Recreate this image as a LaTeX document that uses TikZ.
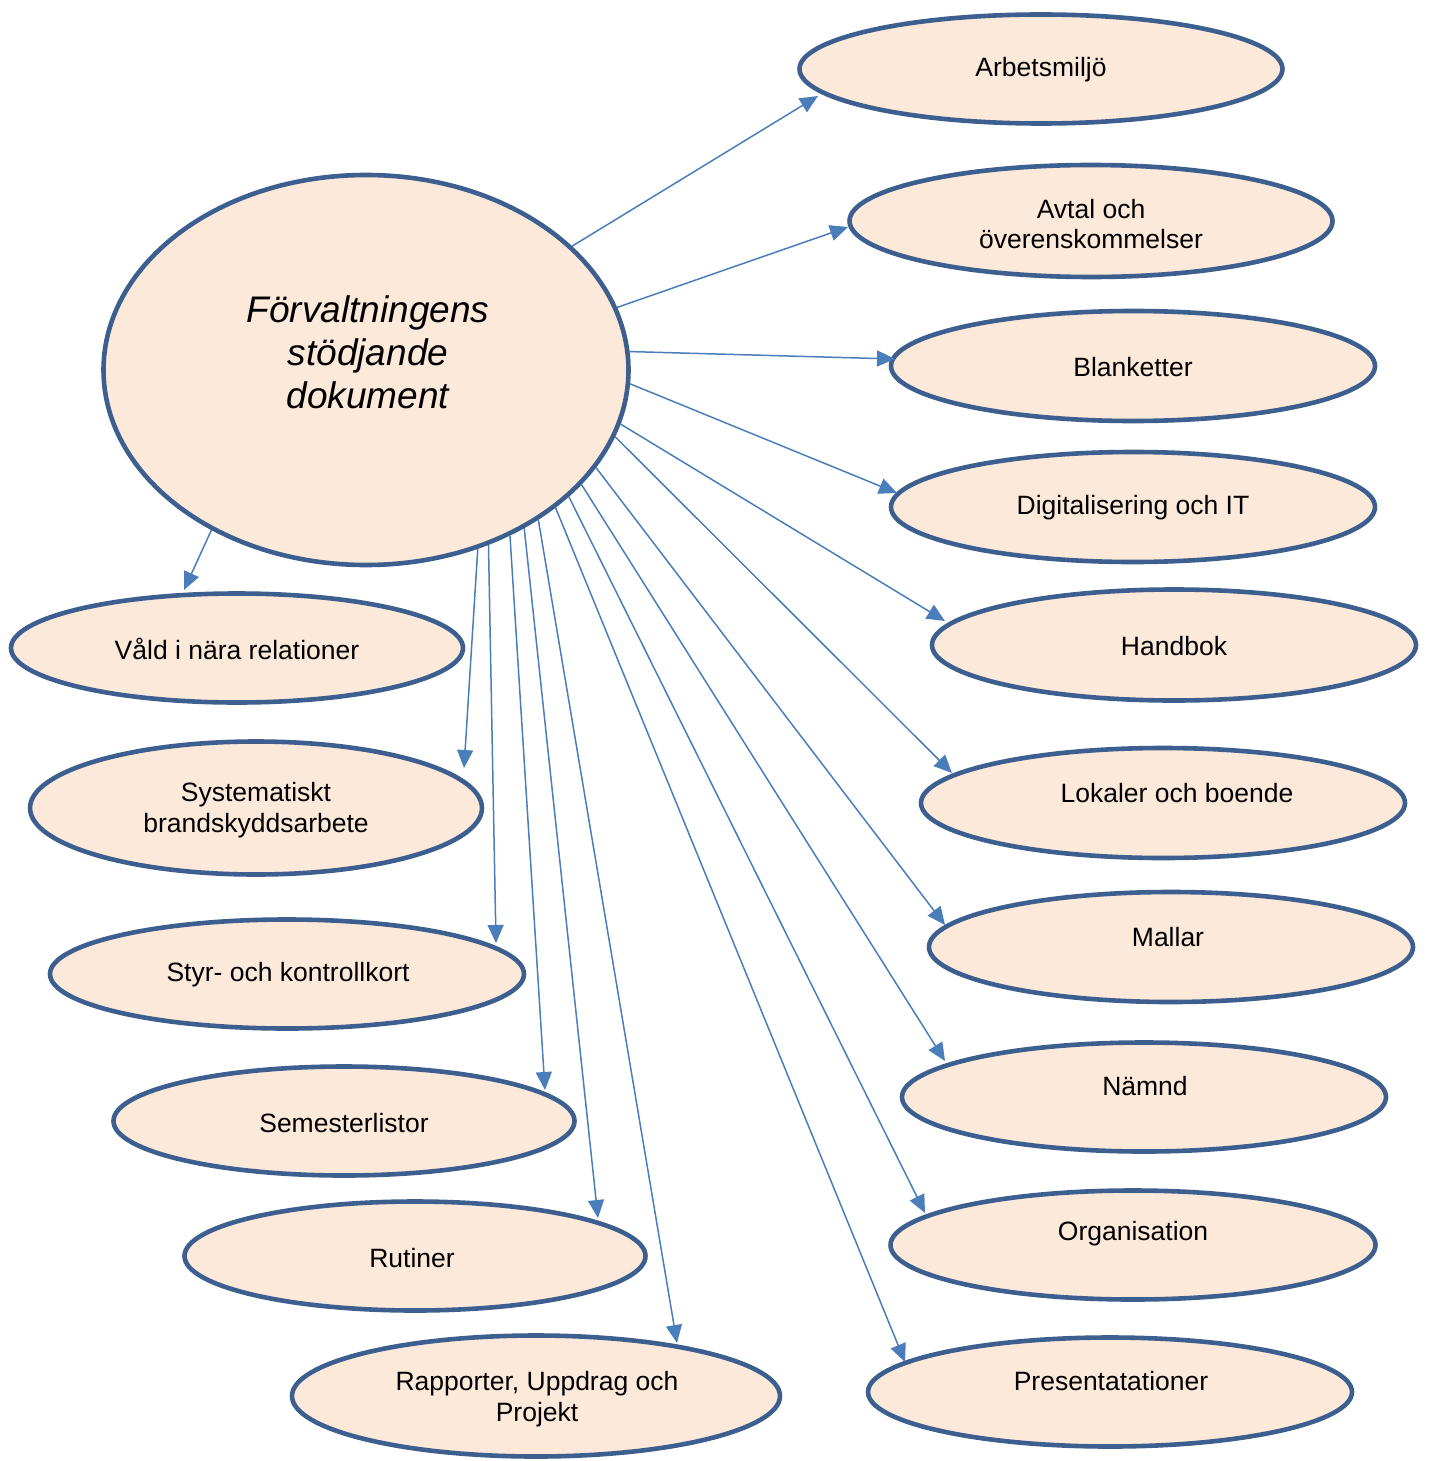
\documentclass[tikz,border=0pt]{standalone}
\usepackage{fontspec}
\setmainfont{Liberation Sans}
\usetikzlibrary{arrows.meta,shapes.geometric}
\definecolor{fillc}{HTML}{FCE9DA}
\definecolor{edgec}{HTML}{3C5F8F}
\definecolor{arrc}{HTML}{4A7EBB}
\begin{document}
\begin{tikzpicture}[x=0.5pt,y=-0.5pt,
  bub/.style={ellipse,draw=edgec,line width=2.3pt,fill=fillc,inner sep=0pt,
    font=\fontsize{13.25}{15.25}\selectfont,align=center},
  txt/.style={font=\fontsize{13.25}{15.25}\selectfont,align=center,inner sep=0pt},
  con/.style={draw=arrc,line width=0.75pt,-{Triangle[length=9pt,width=8pt]}}]
\useasboundingbox (0,0) rectangle (1434,1461);

% central node
\node[bub, minimum width=262.5pt, minimum height=195pt] (main) at (366,370) {};
\node[txt, font=\fontsize{18.5}{21.5}\selectfont\itshape] (mainT) at (368,352)
  {Förvaltningens\\stödjande\\dokument};

% right column
\node[bub, minimum width=241.5pt, minimum height=54.5pt] (arb) at (1041,69) {};
\node[txt] (arbT) at (1041,70) {Arbetsmiljö};
\node[bub, minimum width=241.5pt, minimum height=56pt] (avt) at (1091,221) {};
\node[txt] (avtT) at (1091,224) {Avtal och\\överenskommelser};
\node[bub, minimum width=242pt, minimum height=55pt] (bla) at (1133,366) {};
\node[txt] (blaT) at (1133,367) {Blanketter};
\node[bub, minimum width=242pt, minimum height=55pt] (dig) at (1133,507) {};
\node[txt] (digT) at (1133,508) {Digitalisering och IT};
\node[bub, minimum width=242pt, minimum height=55.5pt] (han) at (1174,645) {};
\node[txt] (hanT) at (1174,646) {Handbok};
\node[bub, minimum width=242pt, minimum height=55pt] (lok) at (1163,803) {};
\node[txt] (lokT) at (1177,793) {Lokaler och boende};
\node[bub, minimum width=242pt, minimum height=55pt] (mal) at (1171,947) {};
\node[txt] (malT) at (1168,937) {Mallar};
\node[bub, minimum width=242pt, minimum height=54.5pt] (nam) at (1144,1097) {};
\node[txt] (namT) at (1145,1086) {Nämnd};
\node[bub, minimum width=242.5pt, minimum height=54.5pt] (org) at (1133,1245) {};
\node[txt] (orgT) at (1133,1234) {Organisation};
\node[bub, minimum width=242pt, minimum height=54.5pt] (pre) at (1110,1392) {};
\node[txt] (preT) at (1111,1381) {Presentatationer};

% left column
\node[bub, minimum width=226pt, minimum height=54.5pt] (val) at (237,648) {};
\node[txt] (valT) at (237,649) {Våld i nära relationer};
\node[bub, minimum width=226pt, minimum height=66.5pt] (sys) at (256,808) {};
\node[txt] (sysT) at (256,810) {Systematiskt\\brandskyddsarbete};
\node[bub, minimum width=237pt, minimum height=54.5pt] (sty) at (287,974) {};
\node[txt] (styT) at (288,975) {Styr- och kontrollkort};
\node[bub, minimum width=230.5pt, minimum height=54.5pt] (sem) at (344,1121) {};
\node[txt] (semT) at (344,1123) {Semesterlistor};
\node[bub, minimum width=230.5pt, minimum height=54.5pt] (rut) at (415,1256) {};
\node[txt] (rutT) at (412,1258) {Rutiner};
\node[bub, minimum width=244pt, minimum height=60.5pt] (rap) at (536,1396) {};
\node[txt] (rapT) at (537,1399) {Rapporter, Uppdrag och\\Projekt};

% arrow tips
\coordinate (t1) at (818,96);
\coordinate (t2) at (848,227);
\coordinate (t3) at (895,359);
\coordinate (t4) at (897,493);
\coordinate (t5) at (945,621);
\coordinate (t6) at (952,773);
\coordinate (t7) at (945,925);
\coordinate (t8) at (945,1061);
\coordinate (t9) at (925,1213);
\coordinate (t10) at (905,1362);
\coordinate (t11) at (677,1343);
\coordinate (t12) at (598,1218);
\coordinate (t13) at (545,1090);
\coordinate (t14) at (496,943);
\coordinate (t15) at (464,768);
\coordinate (t16) at (184,590);

\draw[con] (main.31.5) -- (t1);
\draw[con] (main.14.8) -- (t2);
\draw[con] (main.4.7) -- (t3);
\draw[con] (main.-3.9) -- (t4);
\draw[con] (main.-12.6) -- (t5);
\draw[con] (main.-15.8) -- (t6);
\draw[con] (main.-23.3) -- (t7);
\draw[con] (main.-28.4) -- (t8);
\draw[con] (main.-32.0) -- (t9);
\draw[con] (main.-36.8) -- (t10);
\draw[con] (main.-41.1) -- (t11);
\draw[con] (main.-45.5) -- (t12);
\draw[con] (main.-49.2) -- (t13);
\draw[con] (main.-55.3) -- (t14);
\draw[con] (main.-58.9) -- (t15);
\draw[con] (main.-134.1) -- (t16);
\end{tikzpicture}
\end{document}
